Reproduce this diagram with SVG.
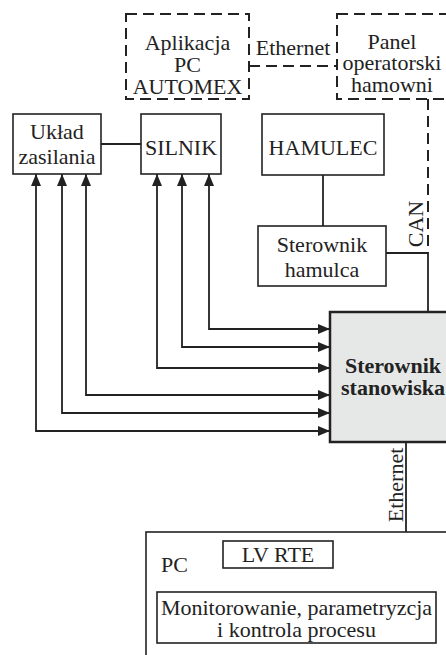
<svg xmlns="http://www.w3.org/2000/svg" width="446" height="655" viewBox="0 0 446 655">
<style>
text{font-family:"Liberation Serif","Times New Roman",serif;font-size:22px;fill:#222;text-anchor:middle}
.b{font-weight:bold}
.box{fill:#fff;stroke:#222;stroke-width:1.6}
.dash{fill:none;stroke:#222;stroke-width:2;stroke-dasharray:11,6}
.ln{fill:none;stroke:#222;stroke-width:1.8}
.ar{fill:none;stroke:#222;stroke-width:1.8;marker-start:url(#ah);marker-end:url(#ah)}
.ae{fill:none;stroke:#222;stroke-width:1.8;marker-end:url(#ah)}
</style>
<defs>
<marker id="ah" viewBox="0 0 12 10" refX="12" refY="5" markerWidth="12" markerHeight="10" markerUnits="userSpaceOnUse" orient="auto-start-reverse">
<path d="M0,0 L12,5 L0,10 z" fill="#222"/>
</marker>
</defs>
<rect width="446" height="655" fill="#fff"/>
<g id="connectors">
<path class="dash" d="M249,66 H337"/>
<path class="dash" d="M428,99 V253"/>
<path class="ln" d="M428,253 V312"/>
<path class="ln" d="M386,253 H428"/>
<path class="ln" d="M323,175 V226"/>
<path class="ln" d="M101,144 H141"/>
<path class="ar" d="M209,174 V329 H330"/>
<path class="ar" d="M182,174 V347 H330"/>
<path class="ar" d="M157,174 V368 H330"/>
<path class="ar" d="M86,174 V395 H330"/>
<path class="ar" d="M62,174 V413 H330"/>
<path class="ar" d="M36,174 V431 H330"/>
<path class="ae" d="M406,442 V592"/>
<path class="ae" d="M276,592 V568"/>
<path class="ae" d="M316,568 V592"/>
<text x="293" y="55">Ethernet</text>
<text transform="translate(423,224) rotate(-90)">CAN</text>
<text transform="translate(403,485) rotate(-90)">Ethernet</text>
</g>
<g id="aplikacja">
<rect class="dash" x="126" y="14" width="123" height="85"/>
<text x="187.5" y="50">Aplikacja</text>
<text x="187.5" y="72">PC</text>
<text x="187.5" y="94">AUTOMEX</text>
</g>
<g id="panel">
<rect class="dash" x="337" y="14" width="130" height="85"/>
<text x="392" y="49">Panel</text>
<text x="392" y="70">operatorski</text>
<text x="392" y="92">hamowni</text>
</g>
<g id="uklad">
<rect class="box" x="13" y="114" width="88" height="60"/>
<text x="57" y="139">Układ</text>
<text x="57" y="164">zasilania</text>
</g>
<g id="silnik">
<rect class="box" x="141" y="114" width="80" height="60"/>
<text x="181" y="155">SILNIK</text>
</g>
<g id="hamulec">
<rect class="box" x="262" y="114" width="122" height="61"/>
<text x="323" y="155">HAMULEC</text>
</g>
<g id="sterownik-hamulca">
<rect class="box" x="258" y="226" width="128" height="60"/>
<text x="322" y="252">Sterownik</text>
<text x="322" y="277">hamulca</text>
</g>
<g id="sterownik-stanowiska">
<rect x="330" y="312" width="130" height="130" fill="#e6e8e8" stroke="#222" stroke-width="2.5"/>
<text class="b" x="393" y="373">Sterownik</text>
<text class="b" x="393" y="395">stanowiska</text>
</g>
<g id="pc">
<rect class="box" x="146" y="532" width="320" height="140"/>
<text x="161" y="572" style="text-anchor:start">PC</text>
</g>
<g id="lvrte">
<rect class="box" x="223" y="541" width="110" height="27"/>
<text x="278" y="562">LV RTE</text>
</g>
<g id="monitorowanie">
<rect class="box" x="157" y="592" width="279" height="51"/>
<text x="296.5" y="615">Monitorowanie, parametryzcja</text>
<text x="296.5" y="637">i kontrola procesu</text>
</g>
</svg>
